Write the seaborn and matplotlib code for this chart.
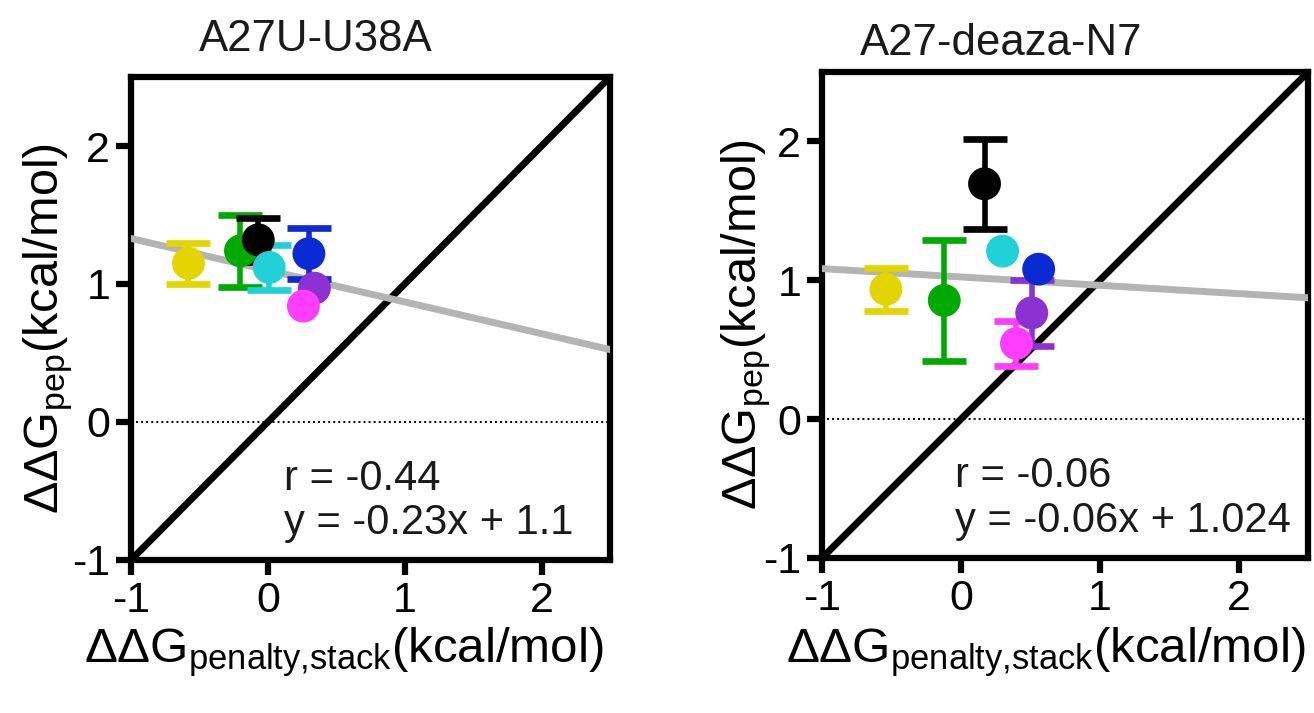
import numpy as np
import pandas as pd
import matplotlib
matplotlib.use("Agg")
import matplotlib.pyplot as plt
import seaborn as sns

# point order / colours shared by both panels
point_names = ["yellow", "green", "black", "cyan", "blue", "purple", "magenta"]
point_colors = ["#E4D400", "#00AA00", "#000000", "#20D2D8", "#0A2AD2", "#8C32D2", "#FF3CFF"]

# left panel: A27U-U38A
x_left = [-0.58, -0.20, -0.07, 0.01, 0.30, 0.34, 0.26]
y_left = [1.15, 1.24, 1.32, 1.12, 1.22, 0.97, 0.84]
err_left = [0.15, 0.26, 0.16, 0.16, 0.185, 0.0, 0.0]
slope_left, intercept_left, r_left = -0.23, 1.1, -0.44

# right panel: A27-deaza-N7
x_right = [-0.54, -0.12, 0.17, 0.30, 0.56, 0.51, 0.40]
y_right = [0.935, 0.855, 1.695, 1.21, 1.08, 0.765, 0.545]
err_right = [0.155, 0.435, 0.325, 0.0, 0.0, 0.235, 0.165]
slope_right, intercept_right, r_right = -0.06, 1.024, -0.06

titles = ["A27U-U38A", "A27-deaza-N7"]
tick_values = [-1, 0, 1, 2]
axis_range = [-1, 2.5]

sns.set_theme(style="ticks")
plt.rcParams["font.family"] = ["Liberation Sans", "DejaVu Sans"]
plt.rcParams["mathtext.default"] = "regular"
plt.rcParams["axes.unicode_minus"] = False
plt.rcParams["text.color"] = "black"
plt.rcParams["axes.labelcolor"] = "black"

fig = plt.figure(figsize=(13.14, 7.13), dpi=100)
ax_left = fig.add_axes([0.0997, 0.2146, 0.3645, 0.6774])
ax_right = fig.add_axes([0.6256, 0.2174, 0.3699, 0.6816])


def draw_panel(ax, title, xs, ys, errs, slope, intercept, r,
               title_pos, xlabel_pos, ylabel_pos, text_x):
    # reference lines: dotted zero, identity, fitted regression
    ax.axhline(0, color="black", lw=1.4, ls=(0, (1, 1.6)), zorder=1)
    line_x = np.array(axis_range)
    sns.lineplot(x=line_x, y=line_x, color="black", lw=5, ax=ax, zorder=2)
    sns.lineplot(x=line_x, y=slope * line_x + intercept, color="#B4B4B4",
                 lw=5, ax=ax, zorder=3)

    # error bars first, then the filled circles on top
    for x, y, e, c in zip(xs, ys, errs, point_colors):
        if e > 0:
            ax.errorbar(x, y, yerr=e, fmt="none", ecolor=c, elinewidth=4,
                        capsize=15.5, capthick=4.8, zorder=4)
    df = pd.DataFrame({"x": xs, "y": ys, "name": point_names})
    sns.scatterplot(data=df, x="x", y="y", hue="name",
                    palette=dict(zip(point_names, point_colors)),
                    s=560, edgecolor="none", linewidth=0, legend=False,
                    ax=ax, zorder=5)

    ax.text(text_x, -0.49, f"r = {r:.2f}",
            fontsize=30, va="baseline", ha="left", color="#1a1a1a")
    ax.text(text_x, -0.81, f"y = {slope:g}x + {intercept:g}",
            fontsize=30, va="baseline", ha="left", color="#1a1a1a")

    ax.set_xlim(axis_range)
    ax.set_ylim(axis_range)
    ax.set_xticks(tick_values)
    ax.set_yticks(tick_values)
    ax.tick_params(direction="out", length=11, width=4.5, labelsize=31,
                   pad=4, color="black", labelcolor="black")
    for sp in ax.spines.values():
        sp.set_visible(True)
        sp.set_linewidth(4.5)
        sp.set_color("black")

    ax.set_title(title, fontsize=31.5, x=title_pos[0], y=title_pos[1],
                 va="baseline", ha="center", color="#1a1a1a")
    ax.set_xlabel("ΔΔG$_{penalty{,}stack}$(kcal/mol)", fontsize=35.5)
    ax.set_ylabel("ΔΔG$_{pep}$(kcal/mol)", fontsize=35)
    ax.xaxis.set_label_coords(*xlabel_pos)
    ax.yaxis.set_label_coords(*ylabel_pos)


draw_panel(ax_left, titles[0], x_left, y_left, err_left,
           slope_left, intercept_left, r_left,
           (0.386, 1.036), (0.445, -0.135), (-0.117, 0.48), 0.115)
draw_panel(ax_right, titles[1], x_right, y_right, err_right,
           slope_right, intercept_right, r_right,
           (0.368, 1.018), (0.46, -0.138), (-0.10, 0.48), -0.04)

fig.savefig("out.png", dpi=100)
